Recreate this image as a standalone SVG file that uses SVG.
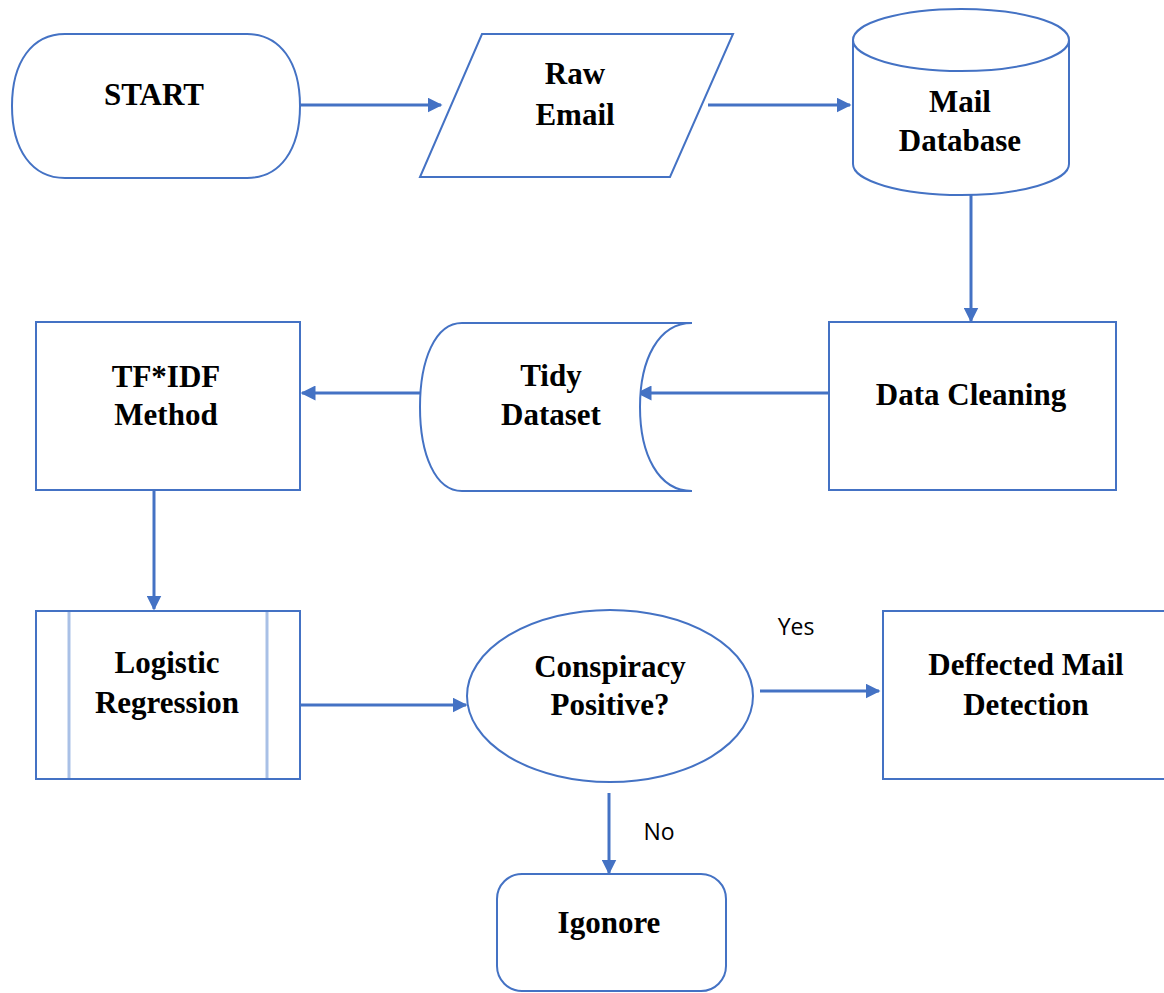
<svg xmlns="http://www.w3.org/2000/svg" width="1164" height="993" viewBox="0 0 1164 993">
<style>
.shape{fill:#fff;stroke:#4472C4;stroke-width:2}
.inner{stroke:#A9C0E6;stroke-width:3}
.t{font-family:"Liberation Serif","Times New Roman",serif;font-weight:bold;font-size:31px;fill:#000;text-anchor:middle}
.lbl{font-family:"Open Sans","Noto Sans",sans-serif;font-size:23px;fill:#000;text-anchor:middle}
.conn{stroke:#4472C4;stroke-width:3;fill:none;marker-end:url(#ah)}
</style>
<defs>
<marker id="ah" viewBox="0 0 10 10" refX="9" refY="5" markerWidth="5" markerHeight="5" orient="auto" markerUnits="strokeWidth">
<path d="M0,0 L10,5 L0,10 Z" fill="#4472C4"/>
</marker>
</defs>
<rect width="1164" height="993" fill="#fff"/>
<g id="connectors">
<line class="conn" x1="300" y1="105" x2="441" y2="105"/>
<line class="conn" x1="708" y1="105" x2="850" y2="105"/>
<line class="conn" x1="971" y1="195" x2="971" y2="321"/>
<line class="conn" x1="829" y1="393" x2="638" y2="393"/>
<line class="conn" x1="420" y1="393" x2="302" y2="393"/>
<line class="conn" x1="154" y1="490" x2="154" y2="609"/>
<line class="conn" x1="300" y1="705" x2="466" y2="705"/>
<line class="conn" x1="760" y1="691" x2="879" y2="691"/>
<line class="conn" x1="609" y1="793" x2="609" y2="873"/>
<text class="lbl" x="796" y="635">Yes</text>
<text class="lbl" x="659" y="840">No</text>
</g>
<g id="start">
<path class="shape" d="M65,34 L247,34 C280,34 300,62 300,106 C300,150 280,178 247,178 L65,178 C32,178 12,150 12,106 C12,62 32,34 65,34 Z"/>
<text class="t" x="154" y="105">START</text>
</g>
<g id="raw-email">
<polygon class="shape" points="482,34 733,34 670,177 420,177"/>
<text class="t" x="575" y="84">Raw</text>
<text class="t" x="575" y="125">Email</text>
</g>
<g id="mail-database">
<path class="shape" d="M853,40 L853,164 A108,31 0 0 0 1069,164 L1069,40"/>
<ellipse class="shape" cx="961" cy="40" rx="108" ry="31"/>
<text class="t" x="960" y="112">Mail</text>
<text class="t" x="960" y="151">Database</text>
</g>
<g id="data-cleaning">
<rect class="shape" x="829" y="322" width="287" height="168"/>
<text class="t" x="971" y="405">Data Cleaning</text>
</g>
<g id="tidy-dataset">
<path class="shape" d="M462,323 L692,323 C658,323 640,360 640,407 C640,454 658,491 692,491 L462,491 C435,491 420,454 420,407 C420,360 435,323 462,323 Z"/>
<text class="t" x="551" y="386">Tidy</text>
<text class="t" x="551" y="425">Dataset</text>
</g>
<g id="tfidf">
<rect class="shape" x="36" y="322" width="264" height="168"/>
<text class="t" x="166" y="387">TF*IDF</text>
<text class="t" x="166" y="425">Method</text>
</g>
<g id="logistic-regression">
<rect class="shape" x="36" y="611" width="264" height="168"/>
<line class="inner" x1="69" y1="612" x2="69" y2="778"/>
<line class="inner" x1="267" y1="612" x2="267" y2="778"/>
<text class="t" x="167" y="673">Logistic</text>
<text class="t" x="167" y="713">Regression</text>
</g>
<g id="conspiracy">
<ellipse class="shape" cx="610" cy="696" rx="143" ry="86"/>
<text class="t" x="610" y="677">Conspiracy</text>
<text class="t" x="610" y="715">Positive?</text>
</g>
<g id="deffected">
<rect class="shape" x="883" y="611" width="290" height="168"/>
<text class="t" x="1026" y="675">Deffected Mail</text>
<text class="t" x="1026" y="715">Detection</text>
</g>
<g id="ignore">
<rect class="shape" x="497" y="874" width="229" height="117" rx="25" ry="25"/>
<text class="t" x="609" y="933">Igonore</text>
</g>
</svg>
